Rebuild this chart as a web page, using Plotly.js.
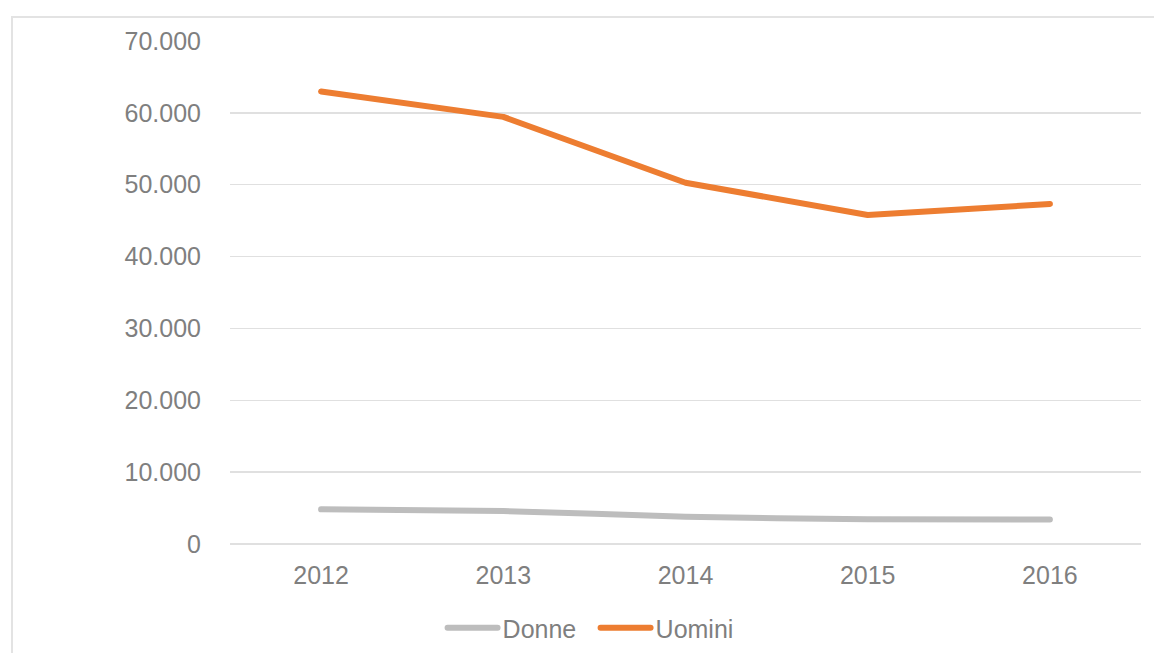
<!DOCTYPE html>
<html>
<head>
<meta charset="utf-8">
<script src="https://cdn.plot.ly/plotly-3.0.1.min.js"></script>
<style>
  html, body { margin: 0; padding: 0; background: #ffffff; }
  #wrap { position: relative; width: 1154px; height: 653px; overflow: hidden; }
  #chart { position: absolute; left: 0; top: 0; width: 1154px; height: 653px; }
  #frame { position: absolute; left: 11px; top: 16px; width: 1200px; height: 700px;
           border-left: 2px solid #e3e3e3; border-top: 2px solid #e3e3e3; pointer-events: none; }
</style>
</head>
<body>
<div id="wrap">
  <div id="chart"></div>
  <div id="frame"></div>
</div>
<script>
const years = ['2012', '2013', '2014', '2015', '2016'];
const donne = [4820, 4580, 3800, 3430, 3400];
const uomini = [62970, 59440, 50280, 45790, 47320];
const yTickVals = [0, 10000, 20000, 30000, 40000, 50000, 60000, 70000];
const yTickText = ['0', '10.000', '20.000', '30.000', '40.000', '50.000', '60.000', '70.000'];

const textColor = '#7f7f7f';
const fontFamily = 'Liberation Sans, Arial, sans-serif';

const traces = [
  {
    x: years, y: donne, name: 'Donne', type: 'scatter', mode: 'lines',
    line: { color: '#bdbdbd', width: 6, shape: 'spline', smoothing: 0.6 },
    hoverinfo: 'x+y+name'
  },
  {
    x: years, y: uomini, name: 'Uomini', type: 'scatter', mode: 'lines',
    line: { color: '#ed7d31', width: 6 },
    hoverinfo: 'x+y+name'
  }
];

const layout = {
  width: 1154, height: 653,
  margin: { l: 230, r: 13, t: 41, b: 109, autoexpand: false },
  paper_bgcolor: '#ffffff', plot_bgcolor: '#ffffff',
  font: { family: fontFamily, size: 25, color: textColor },
  showlegend: true,
  legend: {
    orientation: 'h', x: 0.2553, xanchor: 'left', y: -0.167, yanchor: 'middle',
    bgcolor: 'rgba(0,0,0,0)',
    font: { family: fontFamily, size: 25, color: textColor },
    entrywidth: 108, entrywidthmode: 'pixels'
  },
  xaxis: {
    type: 'category', range: [-0.5, 4.5], automargin: false,
    showgrid: false, zeroline: false, showline: false,
    ticks: '', ticklabelstandoff: 14,
    tickfont: { family: fontFamily, size: 25, color: textColor }
  },
  yaxis: {
    range: [0, 70000], automargin: false,
    tickvals: yTickVals, ticktext: yTickText,
    showgrid: true, gridcolor: '#e0e0e0', gridwidth: 1.5,
    zeroline: true, zerolinecolor: '#e0e0e0', zerolinewidth: 1.5,
    showline: false, ticks: '',
    ticklabelstandoff: 28,
    tickfont: { family: fontFamily, size: 25, color: textColor }
  }
};

Plotly.newPlot('chart', traces, layout, { displayModeBar: false, staticPlot: true }).then(function (gd) {
  gd.querySelectorAll('.legend [clip-path]').forEach(function (el) {
    el.removeAttribute('clip-path');
  });
  gd.querySelectorAll('.legendlines path').forEach(function (p) {
    p.setAttribute('d', 'M-15,0h50');
    p.style.strokeLinecap = 'round';
  });
  gd.querySelectorAll('.scatterlayer .js-line').forEach(function (p) {
    p.style.strokeLinecap = 'round';
    p.style.strokeLinejoin = 'round';
  });
});
</script>
</body>
</html>
